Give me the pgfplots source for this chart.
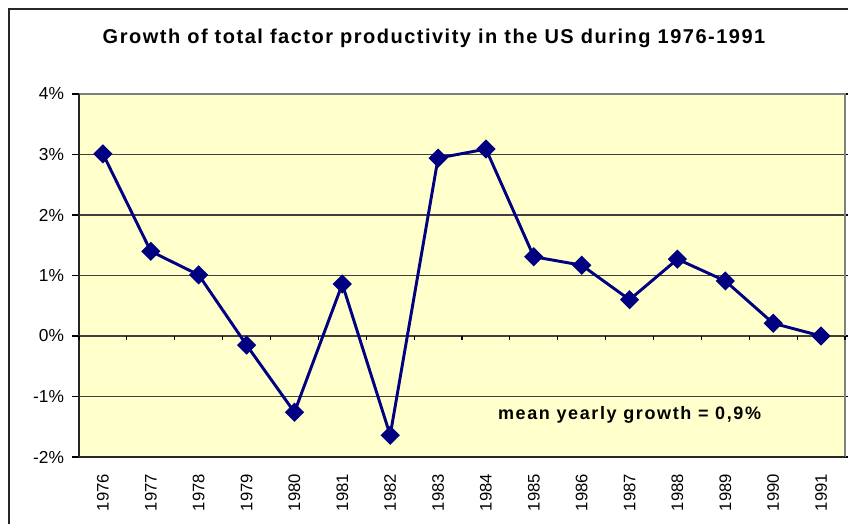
\documentclass[border=0pt]{standalone}
\usepackage{pgfplots}
\pgfplotsset{compat=1.18}
\usepackage{fontspec}
\setmainfont{Liberation Sans}
\newfontfamily\widebold[LetterSpace=9]{Liberation Sans Bold}
\newfontfamily\titlebold[LetterSpace=7.5]{Liberation Sans Bold}
\definecolor{bgyellow}{HTML}{FFFFCC}
\definecolor{navy}{HTML}{000080}
\begin{document}
\begin{tikzpicture}[x=0.75pt,y=0.75pt]
\useasboundingbox (0,0) rectangle (848,524);
% outer chart frame (cropped on right and bottom)
\draw[black!85, line width=1.1pt] (9,0) -- (9,515) -- (848,515);
% title
\node[anchor=base, font=\titlebold\fontsize{15}{17}\selectfont] at (434,480) {Growth of total factor productivity in the US during 1976-1991};
\begin{axis}[
  at={(59.25pt,50.25pt)}, anchor=south west,
  scale only axis,
  width=574.5pt, height=272.25pt,
  xmin=-0.5, xmax=15.5,
  ymin=-2, ymax=4,
  axis background/.style={fill=bgyellow},
  axis line style={draw=none},
  xtick={0,...,15},
  xticklabels={1976,1977,1978,1979,1980,1981,1982,1983,1984,1985,1986,1987,1988,1989,1990,1991},
  x tick label style={rotate=90, anchor=east, font=\fontsize{12.5}{14}\selectfont},
  xticklabel shift=4pt,
  xtick style={draw=none},
  ytick={-2,-1,0,1,2,3,4},
  yticklabel={\pgfmathprintnumber{\tick}\%},
  y tick label style={font=\fontsize{13}{15}\selectfont},
  yticklabel shift=2.5pt,
  /pgf/number format/assume math mode=true,
  ytick style={black, line width=0.8pt},
  tick align=outside,
  major tick length=5.25pt,
  ymajorgrids,
  grid style={black!75, line width=0.8pt},
  clip=false,
]
% plot borders
\draw[gray, line width=0.9pt] (rel axis cs:0,1) -- (rel axis cs:1,1) -- (rel axis cs:1,0);
\draw[black!85, line width=1.1pt] (rel axis cs:1,0) -- (rel axis cs:0,0) -- (rel axis cs:0,1);
% category ticks on zero line
\pgfplotsinvokeforeach{0,...,16}{
  \draw[black, line width=0.8pt] (axis cs:#1-0.5,0) -- ([yshift=-3pt]axis cs:#1-0.5,0);
}
\addplot[navy, line width=2.2pt, mark=square*, mark size=4pt, mark options={rotate=45, solid, fill=navy}]
coordinates {
(0,3.01) (1,1.40) (2,1.01) (3,-0.15) (4,-1.26) (5,0.86) (6,-1.64) (7,2.94)
(8,3.09) (9,1.31) (10,1.17) (11,0.60) (12,1.27) (13,0.91) (14,0.21) (15,0.00)
};
\node[anchor=base, font=\widebold\fontsize{13.5}{15}\selectfont] at (axis cs:11,-1.372) {mean yearly growth = 0,9\%};
\end{axis}
\end{tikzpicture}
\end{document}
